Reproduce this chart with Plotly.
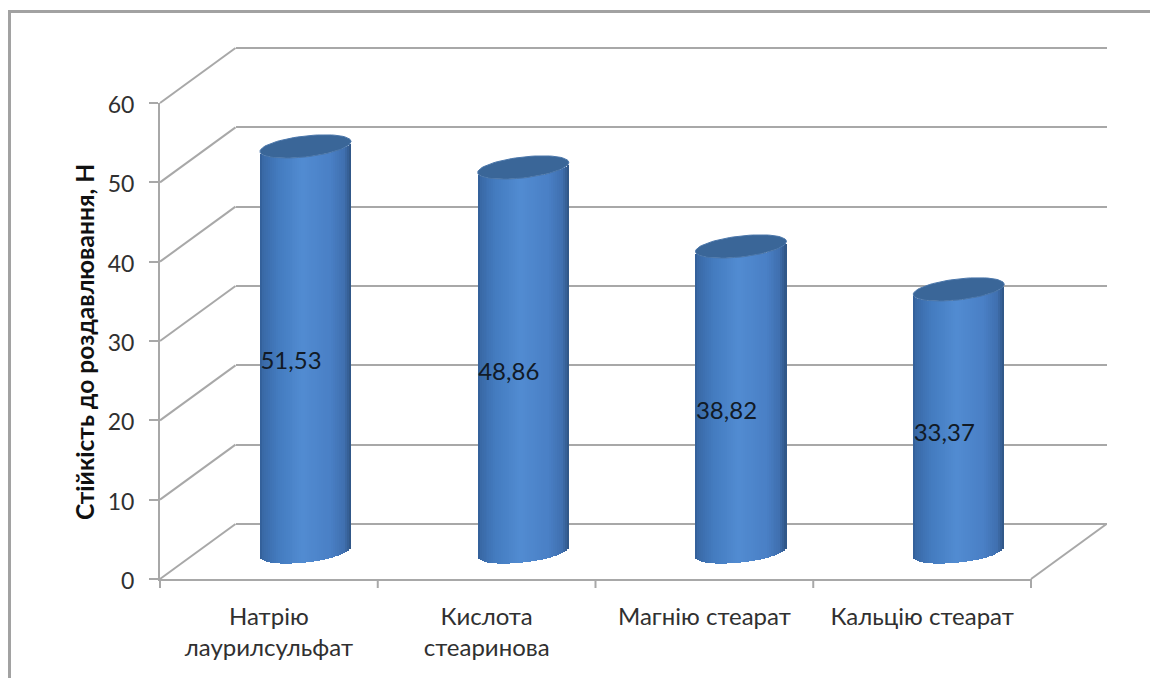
import numpy as np
import plotly.graph_objects as go

categories = ["Натрію<br>лаурилсульфат", "Кислота<br>стеаринова", "Магнію стеарат", "Кальцію стеарат"]
values = [51.53, 48.86, 38.82, 33.37]
value_labels = ["51,53", "48,86", "38,82", "33,37"]
y_ticks = [0, 10, 20, 30, 40, 50, 60]
y_title = "Стійкість до роздавлювання, Н"

W, H = 1150, 678
FONT = "Lato, 'Noto Sans', sans-serif"
GRID = "#a8a8a8"
TEXT = "#303030"

# frame of the plot box, in pixels
FX0, FX1, FY0, FY1 = 160, 1031, 579, 103      # front wall
DX, DY = 75.5, 55                             # depth shift to the back wall
STEP = (FX1 - FX0) / 4
BAR_CX0 = 305.5                               # centre of first cylinder
BAR_Y0 = 552                                  # y pixel of the cylinder base centre
BAR_SCALE = 7.87                              # pixels per unit
RX, RY, TILT = 45.5, 10.5, 5.0                # cap ellipse, pixels


def px2(fromx):
    return fromx / W


def py2(fromy):
    return 1 - fromy / H


ux = STEP
x_rng = [(0 - BAR_CX0) / ux, (W - BAR_CX0) / ux]
y_rng = [(BAR_Y0 - H) / BAR_SCALE, BAR_Y0 / BAR_SCALE]

fig = go.Figure()

idx = np.arange(len(values))
vals = np.array(values)

# traces that keep the front and back axes alive
fig.add_trace(go.Scatter(x=[0], y=[0], mode="markers", marker=dict(opacity=0), xaxis="x", yaxis="y",
                         showlegend=False, hoverinfo="skip"))
fig.add_trace(go.Scatter(x=[0], y=[0], mode="markers", marker=dict(opacity=0), xaxis="x2", yaxis="y2",
                         showlegend=False, hoverinfo="skip"))


def shade(u):
    """u in [-1, 1] across the cylinder."""
    stops_u = [-1.0, -0.93, -0.6, -0.05, 0.55, 0.85, 0.96, 1.0]
    r = [50, 58, 68, 82, 74, 64, 52, 46]
    g = [94, 106, 124, 140, 128, 112, 92, 84]
    b = [150, 168, 192, 210, 198, 176, 144, 130]
    return "rgb(%d,%d,%d)" % (np.interp(u, stops_u, r), np.interp(u, stops_u, g), np.interp(u, stops_u, b))


# cylinder bodies: vertical strips, each a bar trace of the series
N = 46
edges = np.linspace(-1, 1, N + 1)
for a, b in zip(edges[:-1], edges[1:]):
    u = (a + b) / 2
    front = np.sqrt(max(0, 1 - u * u))
    base_px = TILT * u - RY * front     # front edge of the ellipse; + means upward on the page
    base = base_px / BAR_SCALE
    fig.add_trace(go.Bar(
        x=idx + u * RX / ux, y=vals, base=base, width=(b - a) * RX / ux * 1.15,
        marker=dict(color=shade(u), line=dict(width=0)),
        xaxis="x3", yaxis="y3", showlegend=False, hoverinfo="skip",
    ))

# top caps
t = np.linspace(0, 2 * np.pi, 73)
for i, v in zip(idx, vals):
    fig.add_trace(go.Scatter(
        x=i + RX * np.cos(t) / ux,
        y=v + (TILT * np.cos(t) + RY * np.sin(t)) / BAR_SCALE,
        mode="lines", fill="toself", fillcolor="#3a6698",
        line=dict(color="#4a76aa", width=1),
        xaxis="x3", yaxis="y3", showlegend=False, hoverinfo="skip",
    ))

# value labels
fig.add_trace(go.Scatter(
    x=idx - 14.5 / ux, y=vals / 2 - 14 / BAR_SCALE, text=value_labels, mode="text",
    textfont=dict(family=FONT, size=24, color="#111a26"),
    xaxis="x3", yaxis="y3", showlegend=False, hoverinfo="skip",
))

shapes = []
line = dict(color=GRID, width=2)
# outer frame: only the top and left edges fall inside the picture
shapes.append(dict(type="rect", xref="paper", yref="paper", layer="below",
                   x0=px2(9.5), x1=px2(1170), y0=py2(11.5), y1=py2(700),
                   line=dict(color="#a2a2a2", width=3)))
# side and floor diagonals, from the axis ticks
unit = (FY0 - FY1) / 60
for tv in y_ticks:
    yp = FY0 - tv * unit
    shapes.append(dict(type="line", xref="paper", yref="paper", layer="below",
                       x0=px2(FX0), y0=py2(yp), x1=px2(FX0 + DX), y1=py2(yp - DY), line=line))
shapes.append(dict(type="line", xref="paper", yref="paper", layer="below",
                   x0=px2(FX1), y0=py2(FY0), x1=px2(FX1 + DX), y1=py2(FY0 - DY), line=line))

fig.update_layout(
    width=W, height=H, margin=dict(l=0, r=0, t=0, b=0),
    paper_bgcolor="white", plot_bgcolor="rgba(0,0,0,0)",
    barmode="overlay", bargap=0, showlegend=False, shapes=shapes,
    font=dict(family=FONT, color=TEXT),
    xaxis=dict(domain=[px2(FX0), px2(FX1)], range=[-0.5, 3.5], anchor="y", automargin=False,
               tickvals=list(idx), ticktext=categories, showgrid=False, zeroline=False,
               showline=True, linecolor=GRID, linewidth=2, ticks="", tickfont=dict(size=24, color=TEXT),
               ticklabelstandoff=15),
    yaxis=dict(domain=[py2(FY0), py2(FY1)], range=[0, 60], anchor="x", tickvals=y_ticks, automargin=False,
               showgrid=False, zeroline=False, showline=True, linecolor=GRID, linewidth=2,
               ticks="outside", ticklen=9, tickwidth=2, tickcolor=GRID,
               tickfont=dict(size=23, color=TEXT), ticklabelstandoff=10, ticklabelshift=2),
    xaxis2=dict(domain=[px2(FX0 + DX), px2(FX1 + DX)], range=[-0.5, 3.5], anchor="y2",
                automargin=False, visible=False),
    yaxis2=dict(domain=[py2(FY0 - DY + unit), py2(FY1 - DY - unit)], range=[-1, 61], anchor="x2",
                automargin=False, tickvals=y_ticks, showgrid=True, gridcolor=GRID, gridwidth=2,
                zeroline=False, showline=False, showticklabels=False, ticks=""),
    xaxis3=dict(domain=[0, 1], range=x_rng, anchor="y3", automargin=False, visible=False),
    yaxis3=dict(domain=[0, 1], range=y_rng, anchor="x3", automargin=False, visible=False),
    annotations=[
        dict(text="<b>%s</b>" % y_title, xref="paper", yref="paper", x=px2(84), y=py2(342),
             textangle=-90, showarrow=False, font=dict(family=FONT, size=24.6, color="#111111"),
             xanchor="center", yanchor="middle"),
    ],
)
# x-axis ticks at category boundaries: drawn from the category positions
tick_x = np.arange(len(values) + 1) - 0.5
for tx in tick_x:
    xp = FX0 + (tx + 0.5) * STEP
    fig.add_shape(type="line", xref="paper", yref="paper", layer="below",
                  x0=px2(xp), x1=px2(xp), y0=py2(FY0), y1=py2(FY0 + 9), line=line)

fig.write_html("out.html", post_script="document.body.style.margin='0';document.body.style.overflow='hidden';",
               config=dict(displayModeBar=False))
